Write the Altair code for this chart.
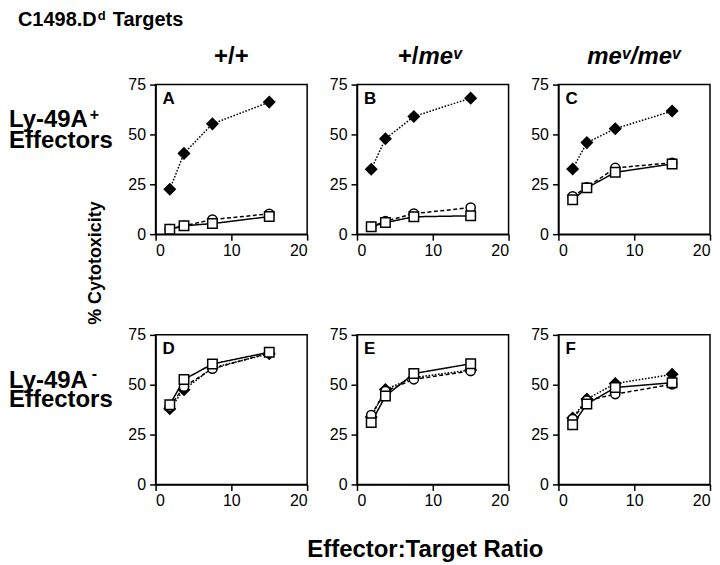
import altair as alt
import pandas as pd

# Effector:Target ratios (x values)
ratios = [1.875, 3.75, 7.5, 15]

# % cytotoxicity, per panel and series (filled diamond / open circle / open square)
diamond_A = [22.5, 40.5, 55.3, 66.2]
circle_A = [2.5, 4.2, 7.3, 10.2]
square_A = [2.5, 4.2, 5.3, 8.8]

diamond_B = [32.5, 47.8, 59.0, 68.2]
circle_B = [3.7, 6.5, 10.3, 13.3]
square_B = [3.7, 5.8, 8.7, 9.2]

diamond_C = [32.7, 45.9, 52.9, 61.7]
circle_C = [19.0, 23.5, 33.2, 35.8]
square_C = [17.2, 23.2, 31.0, 35.2]

diamond_D = [38.0, 47.5, 58.5, 65.5]
circle_D = [39.0, 49.0, 58.0, 66.0]
square_D = [40.0, 52.6, 60.4, 66.3]

diamond_E = [33.8, 47.6, 53.6, 57.4]
circle_E = [34.8, 46.8, 52.7, 56.9]
square_E = [31.0, 44.3, 55.6, 60.5]

diamond_F = [33.3, 42.8, 50.6, 55.2]
circle_F = [32.8, 42.0, 45.3, 50.2]
square_F = [29.9, 40.3, 48.6, 51.0]

x_ticks = [0, 10, 20]
y_ticks = [0, 25, 50, 75]

FONT = "Liberation Sans"

series_styles = [
    # name, shape, fill, dash, size
    ("diamond", "diamond", "black", [1.6, 1.6], 120),
    ("circle", "circle", "white", [4, 2.5], 85),
    ("square", "square", "white", [1, 0], 90),
]


def txt(text, x, y, size, weight="bold", style="normal", align="left",
        baseline="alphabetic", angle=0, line_height=None):
    kw = dict(font=FONT, fontSize=size, fontWeight=weight, fontStyle=style,
              align=align, baseline=baseline, angle=angle, color="black")
    if line_height is not None:
        kw["lineHeight"] = line_height
    return alt.Chart(pd.DataFrame({"k": [0]})).mark_text(**kw).encode(
        x=alt.value(x), y=alt.value(y), text=alt.value(text))


def panel(letter, d, c, s, extra):
    df = pd.DataFrame({
        "ratio": ratios * 3,
        "value": d + c + s,
        "series": ["diamond"] * 4 + ["circle"] * 4 + ["square"] * 4,
    })
    base = alt.Chart(df)
    x = alt.X("ratio:Q", scale=alt.Scale(domain=[0, 20], nice=False),
              axis=alt.Axis(values=x_ticks, title=None, format="d"))
    y = alt.Y("value:Q", scale=alt.Scale(domain=[0, 75], nice=False),
              axis=alt.Axis(values=y_ticks, title=None, format="d"))
    lines = []
    pts = []
    for name, shape, fill, dash, size in series_styles:
        sub = base.transform_filter(alt.datum.series == name)
        lines.append(sub.mark_line(color="black", strokeWidth=1.5,
                                   strokeDash=dash).encode(x=x, y=y))
        pts.append(sub.mark_point(shape=shape, filled=True, fill=fill,
                                  stroke="black", strokeWidth=1.5, size=size,
                                  opacity=1).encode(x=x, y=y))
    layers = lines + pts + [txt(letter, 7, 19, 17)] + extra
    return alt.layer(*layers).properties(width=152, height=150)


extra_A = [
    txt("+/+", 76, -21, 24, align="center"),
    txt("C1498.D", -138, -59, 20),
    txt("d", -58, -65, 13),
    txt("Targets", -43, -59, 20),
    txt(["Ly-49A", "Effectors"], -147, 43, 24, line_height=21),
    txt("+", -66, 36, 16),
    txt("% Cytotoxicity", -60, 179, 18, align="center", baseline="middle", angle=270),
]
extra_B = [
    txt("+/", 41, -21, 24),
    txt("me", 61.7, -21, 24, style="italic"),
    txt("v", 96.4, -26, 16, style="italic"),
]
extra_C = [
    txt("me", 29, -21, 24, style="italic"),
    txt("v", 63.7, -26, 16, style="italic"),
    txt("/", 72.6, -21, 24, style="italic"),
    txt("me", 79.3, -21, 24, style="italic"),
    txt("v", 114, -26, 16, style="italic"),
]
extra_D = [
    txt(["Ly-49A", "Effectors"], -147, 53, 24, line_height=19),
    txt("-", -64, 44, 16),
]
extra_E = [
    txt("Effector:Target Ratio", 68.5, 223, 24, align="center"),
]

charts = [
    panel("A", diamond_A, circle_A, square_A, extra_A),
    panel("B", diamond_B, circle_B, square_B, extra_B),
    panel("C", diamond_C, circle_C, square_C, extra_C),
    panel("D", diamond_D, circle_D, square_D, extra_D),
    panel("E", diamond_E, circle_E, square_E, extra_E),
    panel("F", diamond_F, circle_F, square_F, []),
]

chart = alt.concat(
    *charts, columns=3, spacing={"row": 101, "column": 50}, bounds="flush"
).properties(padding=0).configure_view(
    stroke="black", strokeWidth=1.5
).configure_axis(
    grid=False, domainColor="black", domainWidth=1.5, tickColor="black",
    tickWidth=1.5, tickSize=6, labelFont=FONT, labelFontSize=16,
    labelColor="black", labelPadding=4
).configure_axisX(labelPadding=2)

chart.save("out.html", embed_options={"renderer": "svg", "actions": False})
